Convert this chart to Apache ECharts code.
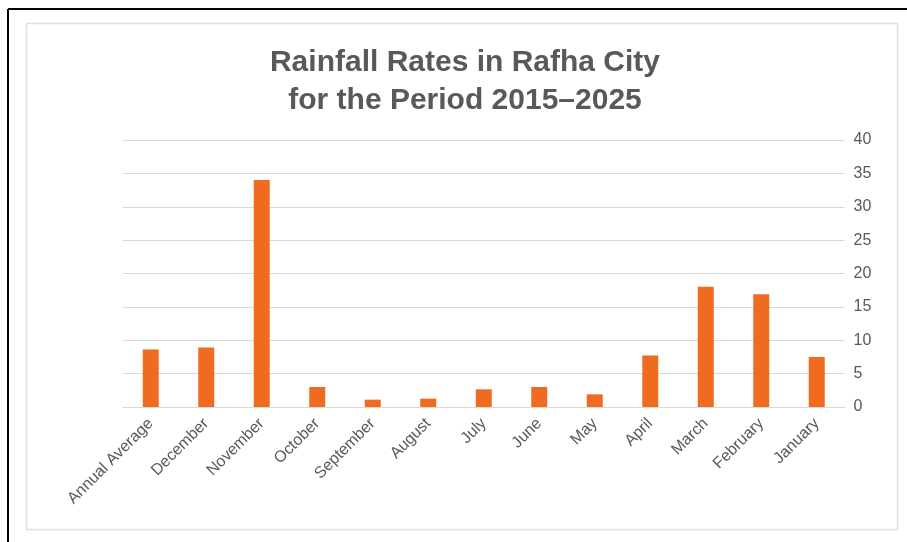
<!DOCTYPE html>
<html>
<head>
<meta charset="utf-8">
<script src="https://cdn.jsdelivr.net/npm/echarts@6/dist/echarts.min.js"></script>
<style>
  html, body { margin: 0; padding: 0; background: #fff; }
  #chart { width: 907px; height: 542px; }
</style>
</head>
<body>
<div id="chart"></div>
<script>
// categories, as in the original (reversed month order)
const months = ['Annual Average', 'December', 'November', 'October', 'September', 'August',
  'July', 'June', 'May', 'April', 'March', 'February', 'January'];
// rainfall, mm
const rainfall = [8.6, 8.9, 34.0, 3.0, 1.1, 1.25, 2.65, 3.0, 1.9, 7.7, 18.0, 16.9, 7.5];
const yTicks = [0, 5, 10, 15, 20, 25, 30, 35, 40];

const textColor = '#595959';
const gridColor = '#d9d9d9';

const myChart = echarts.init(document.getElementById('chart'));

const option = {
  backgroundColor: '#fff',
  animation: false,
  textStyle: { fontFamily: 'Liberation Sans, Arial, sans-serif' },
  graphic: [
    // outer black frame (top + left)
    { type: 'line', shape: { x1: 8, y1: 9, x2: 907, y2: 9 }, style: { stroke: '#000', lineWidth: 2 } },
    { type: 'line', shape: { x1: 8, y1: 9, x2: 8, y2: 542 }, style: { stroke: '#000', lineWidth: 2 } },
    // chart area frame
    { type: 'rect', shape: { x: 26.5, y: 23.5, width: 871, height: 506 },
      style: { fill: 'none', stroke: '#e0e0e0', lineWidth: 1.5 } }
  ],
  title: {
    text: 'Rainfall Rates in Rafha City\nfor the Period 2015\u20132025',
    left: 460,
    top: 39,
    textAlign: 'center',
    textStyle: { color: textColor, fontSize: 30, fontWeight: 'bold', lineHeight: 38 }
  },
  grid: { left: 123, right: 62.5, top: 140, bottom: 135 },
  xAxis: {
    type: 'category',
    data: months,
    axisLine: { lineStyle: { color: gridColor } },
    axisTick: { show: false },
    axisLabel: { color: textColor, fontSize: 16, rotate: 45, margin: 14, interval: 0 }
  },
  yAxis: {
    type: 'value',
    position: 'right',
    min: yTicks[0],
    max: yTicks[yTicks.length - 1],
    interval: 5,
    axisLine: { show: false },
    axisTick: { show: false },
    axisLabel: { color: textColor, fontSize: 16, margin: 9 },
    splitLine: { lineStyle: { color: gridColor, width: 1 } }
  },
  series: [{
    type: 'bar',
    data: rainfall,
    barWidth: 16,
    itemStyle: { color: '#ee6b1f' }
  }]
};

myChart.setOption(option);
</script>
</body>
</html>
